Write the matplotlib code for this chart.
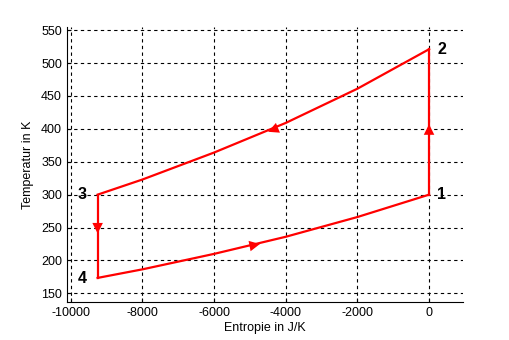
import matplotlib
matplotlib.use('Agg')
import matplotlib.pyplot as plt

# cycle values
s_top = [0, -2000, -4000, -6000, -8000, -9250]
t_top = [521, 461, 409, 364, 323, 300]
s_bot = [-9250, -8000, -6000, -4000, -2000, 0]
t_bot = [173.5, 186.5, 210, 236, 266, 300]

# point labels
lab_text = ['1', '2', '3', '4']
lab_s = [350, 350, -9680, -9680]
lab_t = [300, 521, 300, 172]

# arrows (base -> tip)
arr_from = [(0, 393), (-4200, 402), (-9250, 254), (-5000, 222)]
arr_to = [(0, 407), (-4490, 395.5), (-9250, 241), (-4720, 225)]

plt.rcParams['font.family'] = ['Liberation Sans', 'DejaVu Sans']
plt.rcParams['axes.unicode_minus'] = False

fig = plt.figure(figsize=(5.1, 3.4), dpi=100, facecolor='w')
ax = fig.add_axes([0.131, 0.112, 0.777, 0.809])

red = (1, 0, 0)
# 1 -> 2
ax.plot([s_bot[-1], s_top[0]], [t_bot[-1], t_top[0]], color=red, lw=1.6)
# 2 -> 3
ax.plot(s_top, t_top, color=red, lw=1.6)
# 3 -> 4
ax.plot([s_top[-1], s_bot[0]], [t_top[-1], t_bot[0]], color=red, lw=1.6)
# 4 -> 1
ax.plot(s_bot, t_bot, color=red, lw=1.6)

for a, b in zip(arr_from, arr_to):
    ax.annotate('', xy=b, xytext=a,
                arrowprops=dict(arrowstyle='-|>', color=red, lw=0,
                                mutation_scale=19, shrinkA=0, shrinkB=0))

for txt, s, t in zip(lab_text, lab_s, lab_t):
    ax.text(s, t, txt, fontsize=11.5, fontweight='bold', ha='center', va='center')

ax.set_xlim([-10110, 950])
ax.set_ylim([137, 555])
ax.set_xticks([-10000, -8000, -6000, -4000, -2000, 0])
ax.set_yticks([150, 200, 250, 300, 350, 400, 450, 500, 550])
ax.grid(color=(0, 0, 0), linestyle=(0, (3, 3)), linewidth=0.8)
ax.spines['top'].set_visible(False)
ax.spines['right'].set_visible(False)
ax.tick_params(direction='in', length=3, labelsize=9, color='k')
ax.set_xlabel('Entropie in J/K', fontsize=9, labelpad=2)
ax.set_ylabel('Temperatur in K', fontsize=9, labelpad=5)

fig.savefig('out.png', dpi=100)
